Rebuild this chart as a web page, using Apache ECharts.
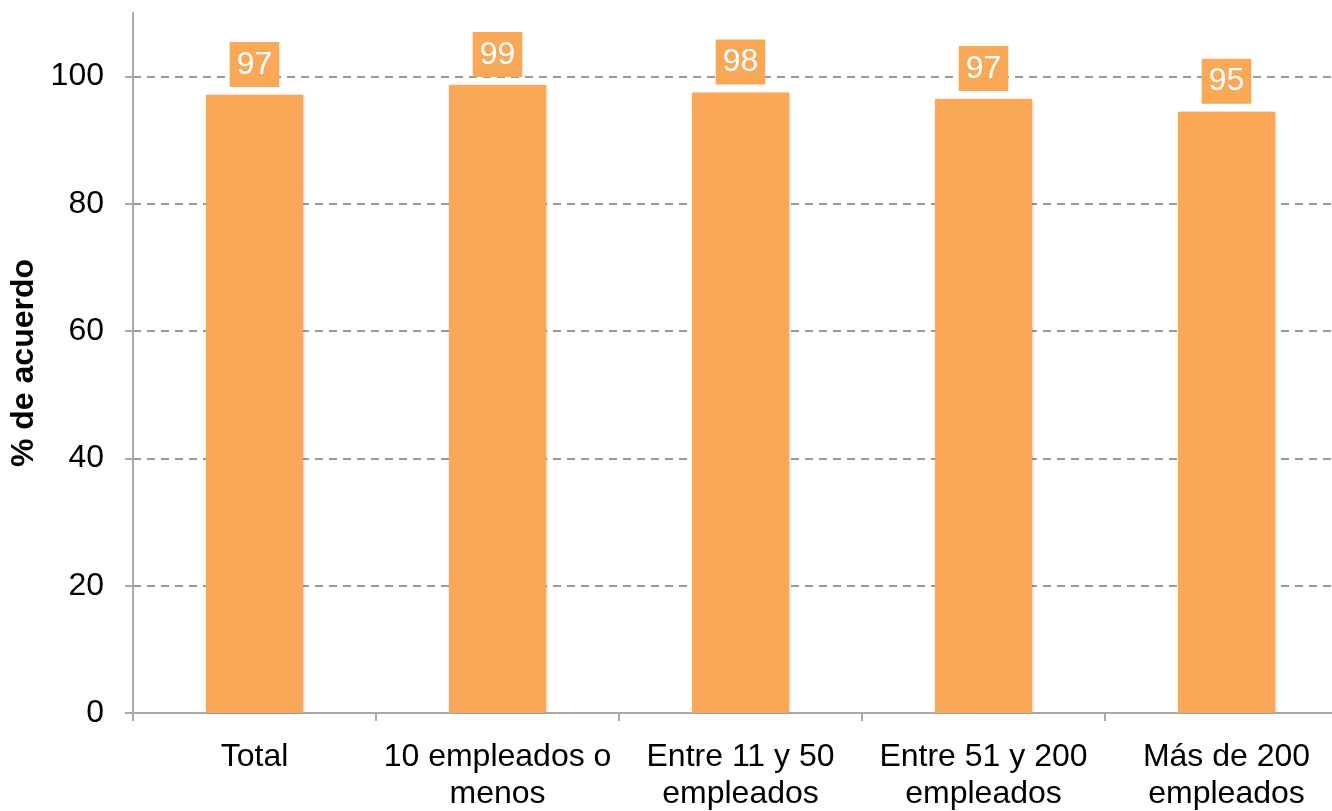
<!DOCTYPE html>
<html>
<head>
<meta charset="utf-8">
<script src="https://cdn.jsdelivr.net/npm/echarts@6/dist/echarts.min.js"></script>
<style>
  html, body { margin: 0; padding: 0; background: #fff; }
  #chart { width: 1332px; height: 811px; }
</style>
</head>
<body>
<div id="chart"></div>
<script>
// categorias y valores
var categories = ['Total', '10 empleados o\nmenos', 'Entre 11 y 50\nempleados', 'Entre 51 y 200\nempleados', 'Más de 200\nempleados'];
var values = [97.1, 98.7, 97.5, 96.5, 94.5];
var yTicks = [0, 20, 40, 60, 80, 100];

var chart = echarts.init(document.getElementById('chart'));
var font = '"Liberation Sans", Arial, sans-serif';
var orange = '#F9A857';
var axisGray = '#aaaaaa';

var option = {
  animation: false,
  grid: {
    left: 133,
    right: -16,
    top: 13,
    bottom: 98,
    outerBoundsMode: 'none'
  },
  xAxis: {
    type: 'category',
    data: categories,
    axisLine: { lineStyle: { color: axisGray, width: 2 } },
    axisTick: { show: true, length: 8, lineStyle: { color: axisGray, width: 2 } },
    axisLabel: {
      interval: 0,
      margin: 26,
      color: '#000',
      fontSize: 32,
      lineHeight: 37,
      fontFamily: font
    }
  },
  yAxis: {
    type: 'value',
    min: 0,
    max: 110,
    interval: 20,
    name: '% de acuerdo',
    nameLocation: 'middle',
    nameGap: 80,
    nameTextStyle: { fontSize: 32, fontWeight: 'bold', color: '#000', fontFamily: font },
    axisLine: { show: true, lineStyle: { color: axisGray, width: 2 } },
    axisTick: { show: true, length: 8, customValues: yTicks, lineStyle: { color: axisGray, width: 2 } },
    axisLabel: {
      margin: 29,
      color: '#000',
      fontSize: 32,
      fontFamily: font,
      customValues: yTicks
    },
    splitLine: {
      show: true,
      lineStyle: { color: '#9a9a9a', width: 2, type: [8, 6] }
    }
  },
  series: [{
    type: 'bar',
    data: values,
    barWidth: '40%',
    itemStyle: {
      color: orange,
      shadowBlur: 3,
      shadowColor: 'rgba(0,0,0,0.25)',
      shadowOffsetX: 1
    },
    label: {
      show: true,
      position: 'top',
      distance: 8,
      color: '#fff',
      fontSize: 32,
      fontFamily: font,
      backgroundColor: orange,
      padding: [7, 7, 6, 7],
      formatter: function (p) { return Math.round(p.value); }
    }
  }]
};

chart.setOption(option);
</script>
</body>
</html>
